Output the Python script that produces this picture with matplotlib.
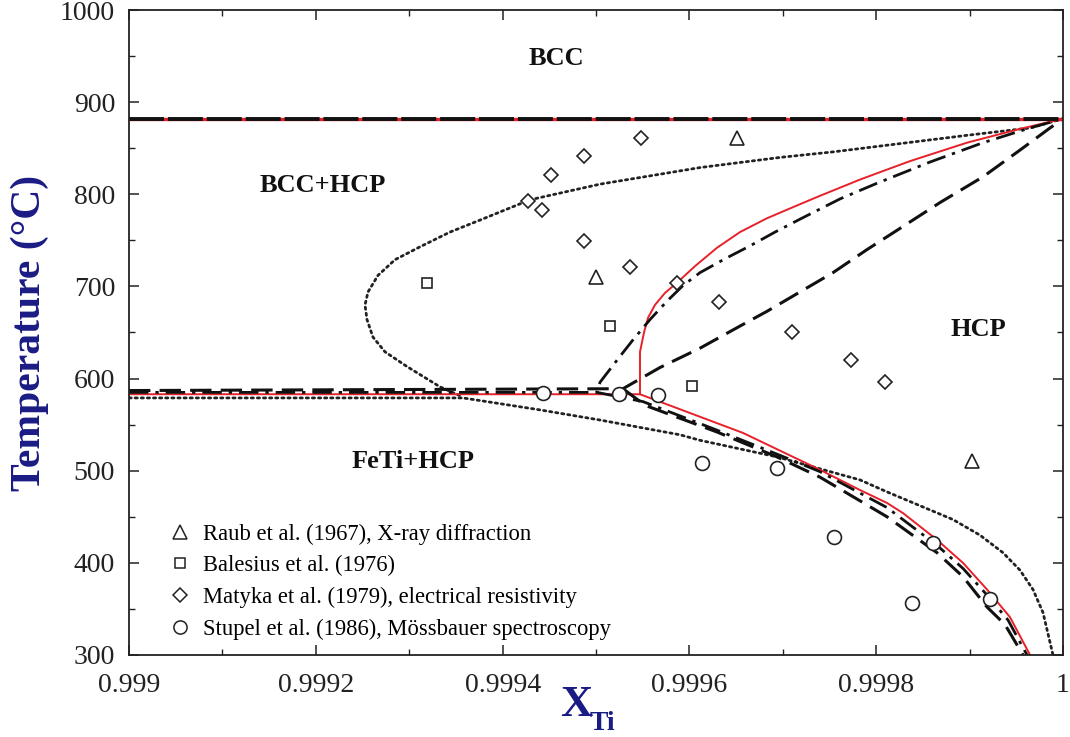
import matplotlib
matplotlib.use("Agg")
import matplotlib.pyplot as plt
from matplotlib.lines import Line2D
from matplotlib.ticker import MultipleLocator, FuncFormatter

plt.rcParams['font.family'] = ['Liberation Serif', 'DejaVu Serif']

# ---------------- experimental data ----------------
raub_x = [0.9995000, 0.9996510, 0.9999026]
raub_t = [710, 861, 510]

balesius_x = [0.9993191, 0.9995150, 0.9996028]
balesius_t = [704, 657, 592]

matyka_x = [0.9994272, 0.9994422, 0.9994518, 0.9994872, 0.9995482, 0.9994872,
            0.9995364, 0.9995867, 0.9996317, 0.9997099, 0.9997730, 0.9998094]
matyka_t = [793, 783, 821, 842, 861, 749, 721, 704, 683, 650, 620, 596]

stupel_x = [0.9994433, 0.9995246, 0.9995664, 0.9996135, 0.9996938,
            0.9997548, 0.9998608, 0.9998384, 0.9999219]
stupel_t = [584, 583, 582, 508, 503, 428, 422, 356, 361]

# ---------------- calculated phase boundaries ----------------
# beta transus of pure Ti
transus_x = [0.999, 1.0]
transus_t = [882, 882]

# red solid: boundaries of the HCP single-phase field
red_up_x = [0.999, 0.9995471, 0.9995471, 0.9995471, 0.9995514, 0.9995557,
            0.9995632, 0.9995739, 0.9995867, 0.9996060, 0.9996296, 0.9996542,
            0.9996831, 0.9997109, 0.9997366, 0.9997827, 0.9998362, 0.9998972,
            0.9999540, 1.0]
red_up_t = [583, 583, 607, 629, 650, 666, 680, 693, 704, 722, 742, 759,
            774, 786, 797, 816, 836, 856, 871, 882]
red_lo_x = [0.9995471, 0.9996574, 0.9997398, 0.9997827, 0.9998116, 0.9998287,
            0.9998651, 0.9998929, 0.9999187, 0.9999433, 0.9999647]
red_lo_t = [583, 541, 501, 479, 465, 454, 425, 400, 371, 341, 300]

# dash-dot boundaries
dd_up_x = [0.999, 0.9995011, 0.9995043, 0.9995225, 0.9995396, 0.9995578,
           0.9995760, 0.9995932, 0.9996114, 0.9996381, 0.9996649, 0.9996917,
           0.9997184, 0.9997613, 0.9998009, 0.9998576, 0.9999144, 0.9999647, 1.0]
dd_up_t = [585, 585, 596, 620, 642, 664, 684, 701, 715, 730, 744, 759,
           773, 795, 812, 835, 856, 872, 882]
dd_lo_x = [0.9995011, 0.9995503, 0.9996296, 0.9996938, 0.9997398, 0.9998116,
           0.9998651, 0.9998929, 0.9999187, 0.9999411, 0.9999615]
dd_lo_t = [585, 575, 544, 518, 499, 460, 419, 394, 365, 338, 300]

# dashed boundaries
da_up_x = [0.999, 0.9995289, 0.9995685, 0.9996114, 0.9996542, 0.9996831,
           0.9997184, 0.9997538, 0.9997902, 0.9998255, 0.9998683, 0.9999144,
           0.9999540, 0.9999861, 1.0]
da_up_t = [587, 589, 612, 633, 657, 673, 694, 715, 740, 763, 791, 819,
           848, 872, 882]
da_lo_x = [0.9995289, 0.9995525, 0.9996296, 0.9996938, 0.9997398, 0.9998116,
           0.9998651, 0.9998929, 0.9999187, 0.9999379, 0.9999572]
da_lo_t = [589, 571, 542, 515, 493, 450, 411, 385, 352, 333, 300]

# dotted boundaries
dot_up_x = [1.0, 0.9999647, 0.9998972, 0.9998255, 0.9997538, 0.9996970,
            0.9996114, 0.9995043, 0.9994293, 0.9993758, 0.9993437, 0.9993116,
            0.9992848, 0.9992666, 0.9992559, 0.9992527, 0.9992548, 0.9992612,
            0.9992741, 0.9992977, 0.9993330, 0.9993576]
dot_up_t = [882, 872, 864, 855, 846, 840, 829, 811, 794, 772, 759, 743,
            729, 712, 694, 680, 664, 645, 629, 613, 591, 580]
dot_lo_x = [0.999, 0.9993576, 0.9994401, 0.9995043, 0.9995899, 0.9996114,
            0.9996938, 0.9997827, 0.9998116, 0.9998822, 0.9999112, 0.9999358,
            0.9999540, 0.9999679, 0.9999786, 0.9999893]
dot_lo_t = [579, 579, 566, 555, 539, 533, 515, 490, 477, 447, 430, 411,
            392, 371, 346, 300]

regions = [("BCC", 0.9994577, 947), ("BCC+HCP", 0.9992078, 809),
           ("HCP", 0.9999091, 653), ("FeTi+HCP", 0.9993040, 510)]

legend_labels = ["Raub et al. (1967), X-ray diffraction",
                 "Balesius et al. (1976)",
                 "Matyka et al. (1979), electrical resistivity",
                 "Stupel et al. (1986), M\u00f6ssbauer spectroscopy"]

navy = "#1b1b85"

fig = plt.figure(figsize=(10.7, 7.37), dpi=100)
ax = fig.add_axes([129 / 1070, 82 / 737, 934 / 1070, 645 / 737])

dot_style = dict(color="#222222", lw=2.0, linestyle=(0, (0.8, 1.4)),
                 dash_capstyle="round")
dash_style = dict(color="#111111", lw=2.2, linestyle=(0, (7, 3)))
dd_style = dict(color="#111111", lw=2.0, linestyle=(0, (7, 2.5, 1.2, 2.5)))
red_style = dict(color="#e8202a", lw=1.4)

ax.plot(dot_up_x, dot_up_t, **dot_style)
ax.plot(dot_lo_x, dot_lo_t, **dot_style)
ax.plot(red_up_x, red_up_t, **red_style)
ax.plot(red_lo_x, red_lo_t, **red_style)
ax.plot(dd_up_x, dd_up_t, **dd_style)
ax.plot(dd_lo_x, dd_lo_t, **dd_style)
ax.plot(da_up_x, da_up_t, **dash_style)
ax.plot(da_lo_x, da_lo_t, **dash_style)
ax.plot(transus_x, transus_t, color="#e8202a", lw=2.4)
ax.plot(transus_x, transus_t, color="#111111", lw=2.8, linestyle=(0, (9, 1.0)))

mk = dict(linestyle="none", markerfacecolor="white", markeredgecolor="#222222",
          markeredgewidth=1.2, zorder=5)
ax.plot(raub_x, raub_t, marker="^", markersize=10, **mk)
ax.plot(balesius_x, balesius_t, marker="s", markersize=7.5, **mk)
ax.plot(matyka_x, matyka_t, marker="D", markersize=7.5, **mk)
ax.plot(stupel_x, stupel_t, marker="o", markersize=10, **mk)

for name, x, t in regions:
    ax.text(x, t, name, fontsize=19, fontweight="bold", ha="center", va="center",
            color="#111111")

handles = [
    Line2D([], [], marker="^", markersize=9.5, linestyle="none",
           markerfacecolor="white", markeredgecolor="#222222", markeredgewidth=1.1),
    Line2D([], [], marker="s", markersize=7.5, linestyle="none",
           markerfacecolor="white", markeredgecolor="#222222", markeredgewidth=1.1),
    Line2D([], [], marker="D", markersize=7.5, linestyle="none",
           markerfacecolor="white", markeredgecolor="#222222", markeredgewidth=1.1),
    Line2D([], [], marker="o", markersize=9.5, linestyle="none",
           markerfacecolor="white", markeredgecolor="#222222", markeredgewidth=1.1),
]
ax.legend(handles, legend_labels, loc="upper left", bbox_to_anchor=(0.0425, 0.204),
          frameon=False, fontsize=16.3, handlelength=1.0, handletextpad=0.53,
          labelspacing=0.47, borderaxespad=0, borderpad=0)

ax.set_xlim(0.999, 1.0)
ax.set_ylim(300, 1000)
ax.xaxis.set_major_locator(MultipleLocator(0.0002))
ax.xaxis.set_minor_locator(MultipleLocator(0.0001))
ax.yaxis.set_major_locator(MultipleLocator(100))
ax.yaxis.set_minor_locator(MultipleLocator(50))


def xfmt(v, _):
    s = "%.4f" % v
    s = s.rstrip("0").rstrip(".")
    return s


ax.xaxis.set_major_formatter(FuncFormatter(xfmt))
ax.tick_params(which="both", direction="in", top=True, right=True,
               colors="#222222", labelcolor="#222222")
ax.tick_params(which="major", length=7, width=1.1, labelsize=20, pad=10)
ax.tick_params(axis="x", which="major", pad=13)
ax.tick_params(which="minor", length=4, width=1.0)
for sp in ax.spines.values():
    sp.set_linewidth(1.3)
    sp.set_color("#222222")

ax.set_ylabel("Temperature (\u00b0C)", fontsize=30, fontweight="bold", color=navy,
              labelpad=8)
fig.text(0.5234, 0.028, "X", fontsize=32, fontweight="bold", color=navy,
         ha="left", va="baseline")
fig.text(0.5515, 0.010, "Ti", fontsize=20, fontweight="bold", color=navy,
         ha="left", va="baseline")

fig.savefig("out.png", dpi=100)
